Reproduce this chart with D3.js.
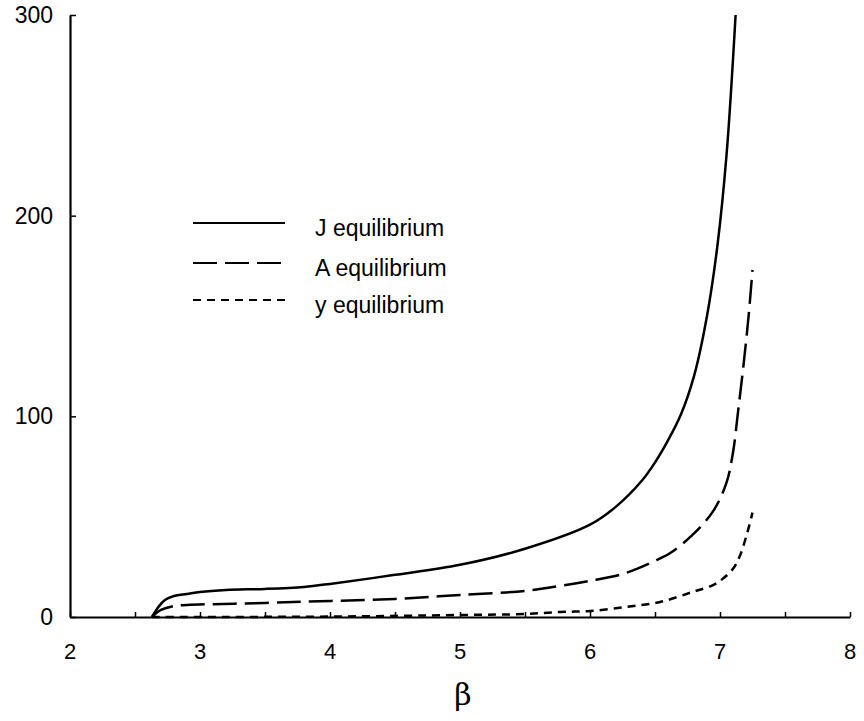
<!DOCTYPE html>
<html><head><meta charset="utf-8">
<script src="https://cdn.jsdelivr.net/npm/d3@7"></script>
<style>body{margin:0;background:#fff}svg{display:block}</style>
</head><body>
<script>
const xTicks = [2,3,4,5,6,7,8];
const yTicks = [0,100,200,300];
const jBeta = [2.63,2.68,2.73,2.8,2.9,3.0,3.2,3.5,3.8,4.0,4.5,5.0,5.5,6.0,6.2,6.4,6.5,6.6,6.7,6.8,6.9,6.98,7.05,7.12];
const jVals = [0,5,8.5,10.5,11.5,12.5,13.5,14,15,16.5,21,26,34,46,55,68,77,88,101,120,150,185,230,300];
const aBeta = [2.63,2.7,2.8,2.9,3.5,4.0,4.5,5.0,5.5,5.77,6.0,6.23,6.36,6.5,6.62,6.79,6.95,7.05,7.1,7.14,7.18,7.22,7.25];
const aVals = [0,3.5,5.5,6,7,8,9,11,13,15.5,18,21,24,28,32,41,53,67,82,103,125,150,173];
const yBeta = [2.63,4.0,5.0,5.5,5.77,6.0,6.28,6.54,6.79,6.95,7.02,7.1,7.15,7.21,7.25];
const yVals = [0,0.2,1,1.5,2.5,3,5,7.5,12.5,16,19,24,30,42,52];
const seriesNames = ["J equilibrium","A equilibrium","y equilibrium"];
const xLabel = "β";

const W=864,H=721;
const svg=d3.select("body").append("svg").attr("width",W).attr("height",H);
const x=d3.scaleLinear().domain([2,8]).range([70,850]);
const y=d3.scaleLinear().domain([0,300]).range([617,15]);
const font="Arial, 'Liberation Sans', sans-serif";

// axes
const xa=svg.append("g").attr("transform","translate(0,617)")
  .call(d3.axisBottom(x).tickValues(d3.range(2,8.01,0.5)).tickSize(-5).tickSizeOuter(0).tickFormat(""));
const ya=svg.append("g").attr("transform","translate(70,0)")
  .call(d3.axisLeft(y).tickValues(yTicks).tickSize(-6).tickSizeOuter(0).tickFormat(""));
[xa,ya].forEach(g=>{g.selectAll("path").attr("stroke","#000").attr("stroke-width",2.2);
  g.selectAll("line").attr("stroke","#000").attr("stroke-width",1.5);});

svg.append("g").selectAll("text").data(xTicks).join("text")
  .attr("x",d=>x(d)).attr("y",659).attr("text-anchor","middle")
  .attr("font-family",font).attr("font-size",22).text(d=>d);
svg.append("g").selectAll("text").data(yTicks).join("text")
  .attr("x",53).attr("y",d=>y(d)+8).attr("text-anchor","end")
  .attr("font-family",font).attr("font-size",23).text(d=>d);
svg.append("text").attr("x",463).attr("y",705).attr("text-anchor","middle")
  .attr("font-family","'DejaVu Serif','Liberation Serif',serif").attr("font-size",30).text(xLabel);

const line=d3.line().x(d=>x(d[0])).y(d=>y(d[1])).curve(d3.curveCatmullRom.alpha(0.5));
const dashes=[null,"24,8","8,6"];
const data=[d3.zip(jBeta,jVals),d3.zip(aBeta,aVals),d3.zip(yBeta,yVals)];
data.forEach((d,i)=>{
  svg.append("path").datum(d).attr("d",line).attr("fill","none").attr("stroke","#000")
    .attr("stroke-width",2.5).attr("stroke-dasharray",dashes[i]);
});

// legend
const legY=[223,263,300];
seriesNames.forEach((n,i)=>{
  svg.append("line").attr("x1",193).attr("x2",285).attr("y1",legY[i]).attr("y2",legY[i])
    .attr("stroke","#000").attr("stroke-width",2).attr("stroke-dasharray",dashes[i]);
  svg.append("text").attr("x",315).attr("y",legY[i]+13).attr("font-family",font)
    .attr("font-size",23).text(n);
});
</script>
</body></html>
